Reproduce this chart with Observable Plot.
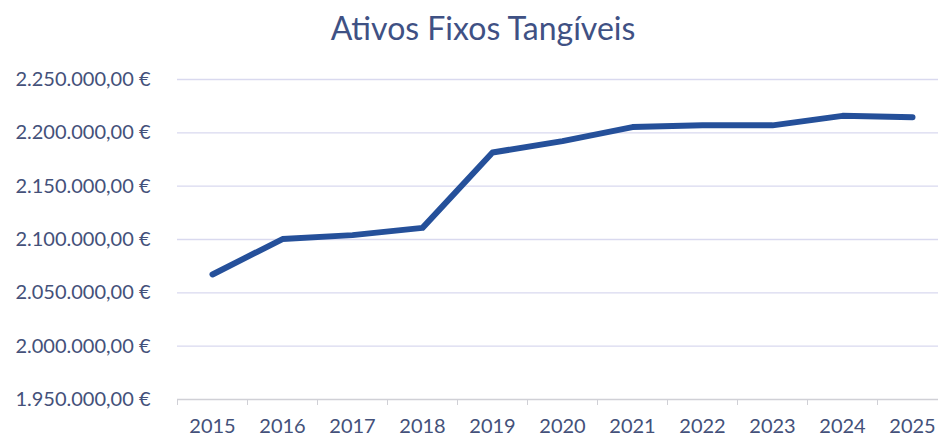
<!DOCTYPE html>
<html>
<head>
<meta charset="utf-8">
<script src="https://cdn.jsdelivr.net/npm/d3@7"></script>
<script src="https://cdn.jsdelivr.net/npm/@observablehq/plot@0.6"></script>
<style>
  html, body { margin: 0; padding: 0; background: #fff; overflow: hidden; }
  #title { width: 938px; height: 60px; box-sizing: border-box; padding-left: 28px; text-align: center;
    font-family: Lato, "Open Sans", sans-serif; font-size: 32px; line-height: 56px; color: #3f5184; }
  svg { max-width: none !important; }
</style>
</head>
<body>
<div id="title">Ativos Fixos Tangíveis</div>
<div id="chart"></div>
<script>
const years = [2015, 2016, 2017, 2018, 2019, 2020, 2021, 2022, 2023, 2024, 2025];
const values = [2067200, 2100400, 2104100, 2110900, 2181600, 2192200, 2205400, 2207000, 2207000, 2215900, 2214700];
const yTicks = [1950000, 2000000, 2050000, 2100000, 2150000, 2200000, 2250000];

const locale = d3.formatLocale({decimal: ",", thousands: ".", grouping: [3], currency: ["", " €"]});
const fmt = locale.format("$,.2f");
const bounds = years.map(y => y - 0.5).concat([years[years.length - 1] + 0.5]);

const chart = Plot.plot({
  width: 948, height: 376,
  marginLeft: 177, marginRight: 1, marginTop: 19, marginBottom: 37,
  x: {domain: [years[0] - 0.5, years[years.length - 1] + 0.5]},
  y: {domain: [yTicks[0], yTicks[yTicks.length - 1]]},
  style: {fontFamily: "Lato, 'Open Sans', sans-serif", fontSize: "20px", background: "white", maxWidth: "none", overflow: "visible"},
  marks: [
    Plot.ruleY(yTicks.slice(1), {stroke: "#d9d9ef", strokeWidth: 1.3}),
    Plot.ruleY([yTicks[0]], {stroke: "#d0d0d6", strokeWidth: 1.3}),
    Plot.axisX({ticks: bounds, tickSize: 6, tickFormat: () => "", stroke: "#d0d0d6", label: null}),
    Plot.axisX({ticks: years, tickSize: 0, tickPadding: 19, tickFormat: d => String(d), fill: "#44517a", fontSize: 20, label: null}),
    Plot.axisY({ticks: yTicks, tickSize: 0, tickPadding: 27, tickFormat: fmt, fill: "#44517a", fontSize: 20, label: null}),
    Plot.line(values, {x: years, y: values, stroke: "#25509a", strokeWidth: 6, strokeLinejoin: "round", strokeLinecap: "round"})
  ]
});
document.getElementById("chart").appendChild(chart);
</script>
</body>
</html>
